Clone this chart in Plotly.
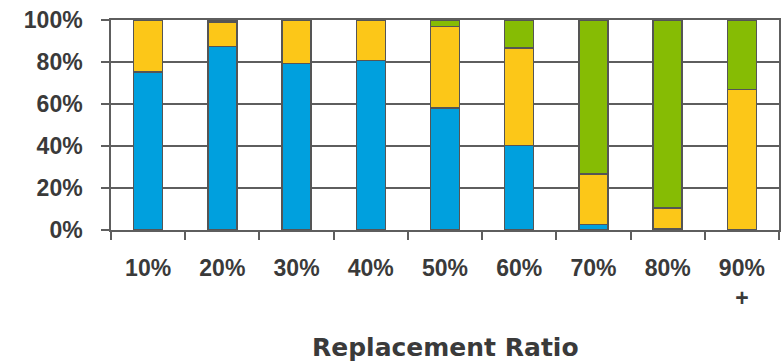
import plotly.graph_objects as go

# Replacement ratio buckets and the share of each stacked segment (percent)
categories = ["10%", "20%", "30%", "40%", "50%", "60%", "70%", "80%", "90%<br>+"]
blue_share = [75.3, 87.5, 79.2, 80.8, 58.1, 40.1, 2.7, 0.8, None]
yellow_share = [24.7, 11.5, 20.8, 19.2, 38.9, 46.6, 24.0, 9.6, 66.8]
green_share = [None, 1.0, None, None, 3.0, 13.3, 73.3, 89.6, 33.2]

y_ticks = [0, 20, 40, 60, 80, 100]

BLUE = "rgb(0,160,222)"
YELLOW = "rgb(252,199,24)"
GREEN = "rgb(134,188,4)"
EDGE = "#555555"
GRID = "#5e5e5e"
TEXT = "#3a3a3a"
SANS = "Liberation Sans, Arial, sans-serif"

fig = go.Figure()
for name, vals, color in [
    ("Series 1", blue_share, BLUE),
    ("Series 2", yellow_share, YELLOW),
    ("Series 3", green_share, GREEN),
]:
    fig.add_trace(go.Bar(
        x=categories, y=vals, name=name,
        marker=dict(color=color, line=dict(color=EDGE, width=1.4)),
    ))

fig.update_layout(
    template="none",
    barmode="stack",
    bargap=0.61,
    showlegend=False,
    width=781, height=364,
    margin=dict(l=111, r=2, t=20, b=134),
)

fig.update_xaxes(
    type="category",
    tickson="boundaries",
    ticks="outside", ticklen=8, tickwidth=1.5, tickcolor=GRID,
    showgrid=False,
    showline=True, linecolor=GRID, linewidth=1.5, mirror=True,
    zeroline=False,
    tickfont=dict(family=SANS, size=23, color=TEXT, weight="bold"),
    ticklabelstandoff=17,
)

fig.update_yaxes(
    range=[0, 100],
    tickvals=y_ticks,
    ticktext=[f"{v}%" for v in y_ticks],
    ticks="outside", ticklen=8, tickwidth=1.5, tickcolor=GRID,
    showgrid=True, gridcolor=GRID, gridwidth=2,
    showline=True, linecolor=GRID, linewidth=1.5, mirror=True,
    zeroline=False,
    tickfont=dict(family=SANS, size=23, color=TEXT, weight="bold"),
    ticklabelstandoff=14,
)

fig.add_annotation(
    text="<b>Replacement Ratio</b>",
    xref="paper", yref="paper", x=0.5, y=-0.558,
    xanchor="center", yanchor="middle",
    showarrow=False,
    font=dict(family="DejaVu Sans, sans-serif", size=25, color=TEXT),
)

fig.write_html("out.html")
